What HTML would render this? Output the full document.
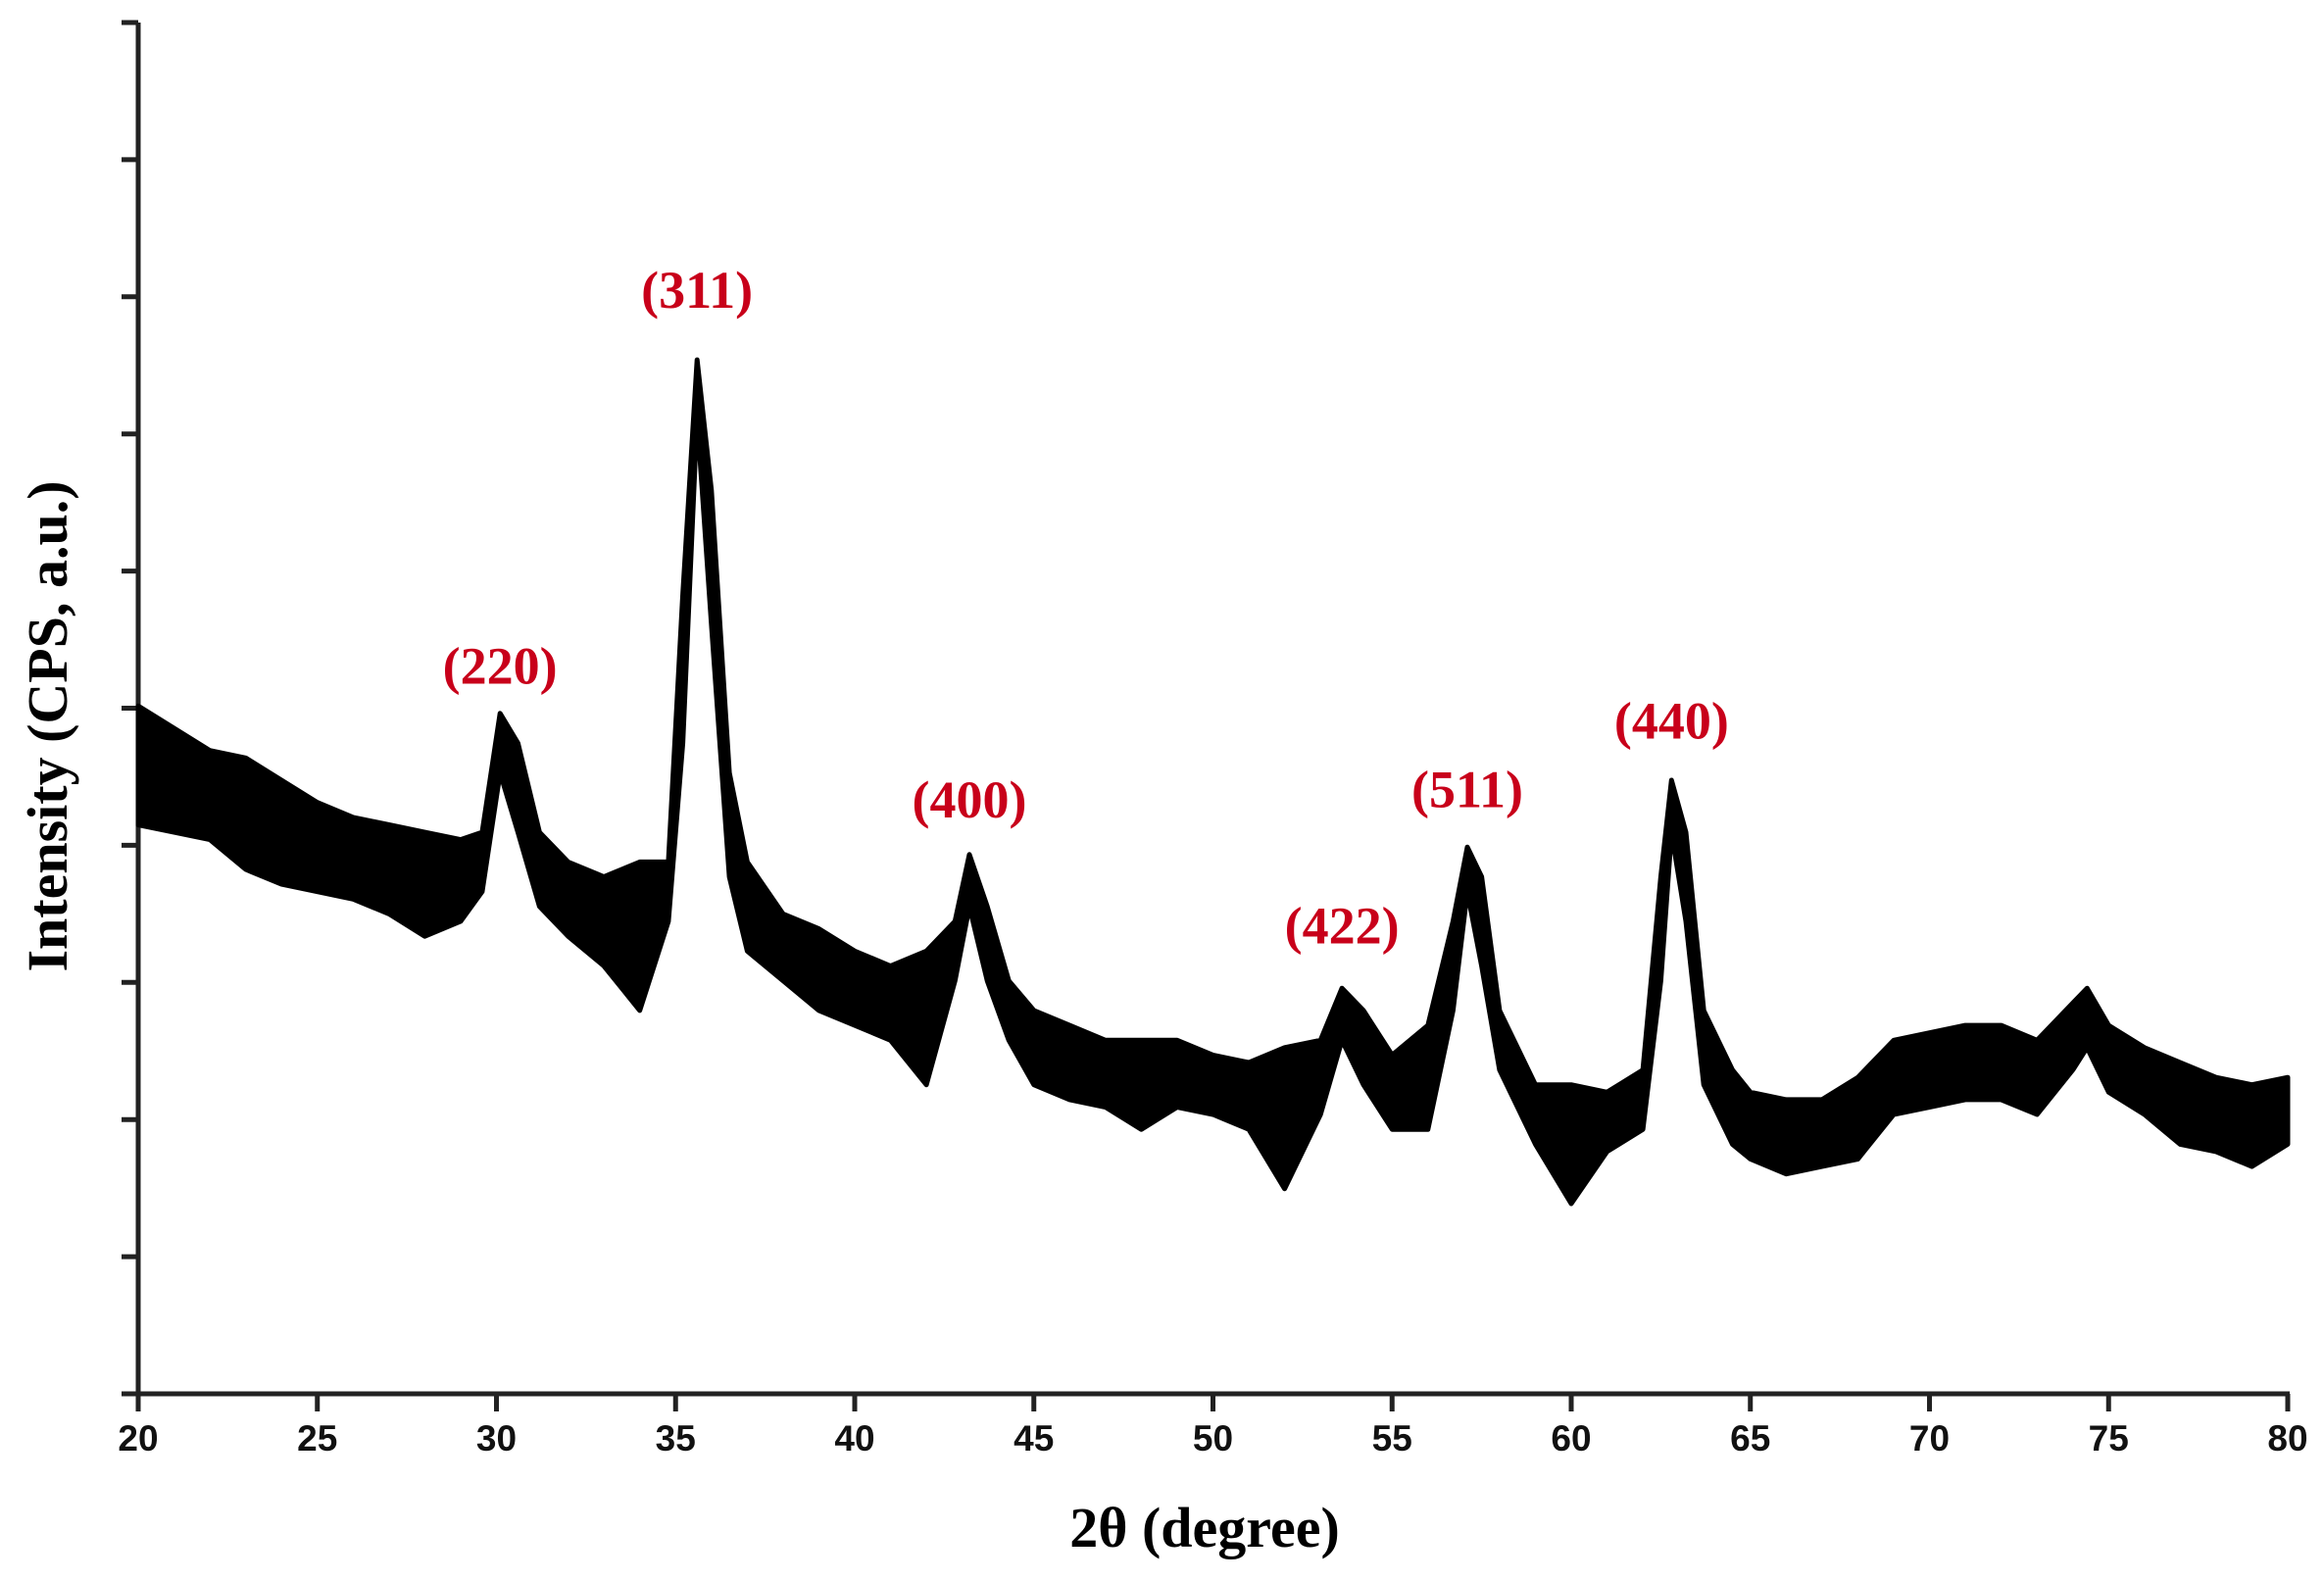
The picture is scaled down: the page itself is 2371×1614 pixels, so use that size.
<!DOCTYPE html>
<html><head><meta charset="utf-8"><style>
html,body{margin:0;padding:0;background:#fff;}
svg{display:block;}
</style></head><body>
<svg id="chart" width="2371" height="1614" viewBox="0 0 2371 1614" xmlns="http://www.w3.org/2000/svg">
<g id="axes"></g>
<g id="series"></g>
<g id="labels"></g>
<text x="1229" y="1578" text-anchor="middle" font-family="Liberation Serif, serif" font-weight="bold" font-size="58">2θ (degree)</text>
<text transform="translate(68,741) rotate(-90)" text-anchor="middle" font-family="Liberation Serif, serif" font-weight="bold" font-size="58">Intensity (CPS, a.u.)</text>
</svg>
<script>
const twoTheta=[20,21,22,23,24,25,26,27,28,29,29.6,30.1,30.6,31.2,32,33,34,34.8,35.2,35.6,36.0,36.5,37,38,39,40,41,42,42.8,43.2,43.7,44.3,45,46,47,48,49,50,51,52,53,53.6,54.2,55,56,56.7,57.1,57.5,58,59,60,61,62,62.5,62.8,63.2,63.7,64.5,65,66,67,68,69,70,71,72,73,74,74.4,75,76,77,78,79,80];
const upper=[463,448,433,428,413,398,388,383,378,373,378,458,438,378,358,348,358,358,538,696,608,418,358,323,313,298,288,298,318,363,328,278,258,248,238,238,238,228,223,233,238,273,258,228,248,318,368,348,258,208,208,203,218,348,413,378,258,218,203,198,198,213,238,243,248,248,238,263,273,248,233,223,213,208,213];
const lower=[383,378,373,353,343,338,333,323,308,318,338,418,378,328,308,288,258,318,438,658,518,348,298,278,258,248,238,208,278,328,278,238,208,198,193,178,193,188,178,138,188,238,208,178,178,258,338,288,218,168,128,163,178,278,378,318,208,168,158,148,153,158,188,193,198,198,188,218,233,203,188,168,163,153,168];
const xTicks=[20,25,30,35,40,45,50,55,60,65,70,75,80];
const yTickCount=[0,1,2,3,4,5,6,7,8,9,10];
const peakLabels=["(220)","(311)","(400)","(422)","(511)","(440)"];
const peakPos=[30.1,35.6,43.2,53.6,57.1,62.8];
const peakLabelY=[478,731,388,303,395,441];

const NS="http://www.w3.org/2000/svg";
const X0=141,X1=2334,Y0=1422,YTOP=23,VMAX=923;
const sx=v=>X0+(v-20)*(X1-X0)/60;
const sy=v=>Y0-v*(Y0-YTOP)/VMAX;
function mk(tag,attrs,parent){const e=document.createElementNS(NS,tag);for(const k in attrs)e.setAttribute(k,attrs[k]);parent.appendChild(e);return e;}
const axes=document.getElementById('axes');
let l=mk('line',{x1:X0,y1:YTOP,x2:X0,y2:Y0,stroke:'#222','stroke-width':5},axes);


l=mk('line',{x1:124,y1:Y0,x2:X1+2,y2:Y0,stroke:'#222','stroke-width':5},axes);


yTickCount.forEach(i=>{const y=YTOP+i*(Y0-YTOP)/10;const t=mk('line',{x1:124,y1:y,x2:X0,y2:y,stroke:'#222','stroke-width':5},axes);

});
xTicks.forEach(v=>{const x=sx(v);const t=mk('line',{x1:x,y1:Y0,x2:x,y2:1440,stroke:'#222','stroke-width':5},axes);


const tx=mk('text',{x:x,y:1480,'text-anchor':'middle','font-family':'Liberation Sans, sans-serif','font-weight':'bold','font-size':37,fill:'#111'},axes);
tx.textContent=v;

});
const series=document.getElementById('series');
let d='';
twoTheta.forEach((v,i)=>{d+=(i?'L':'M')+sx(v).toFixed(1)+','+sy(upper[i]).toFixed(1);});
for(let i=twoTheta.length-1;i>=0;i--){d+='L'+sx(twoTheta[i]).toFixed(1)+','+sy(lower[i]).toFixed(1);}
d+='Z';
const band=mk('path',{d:d,fill:'#000',stroke:'#000','stroke-width':5,'stroke-linejoin':'round'},series);


const labels=document.getElementById('labels');
peakLabels.forEach((s,i)=>{const t=mk('text',{x:sx(peakPos[i]),y:sy(peakLabelY[i]),'text-anchor':'middle','font-family':'Liberation Serif, serif','font-weight':'bold','font-size':54,fill:'#c8001a'},labels);
t.textContent=s;

});
</script>
</body></html>
